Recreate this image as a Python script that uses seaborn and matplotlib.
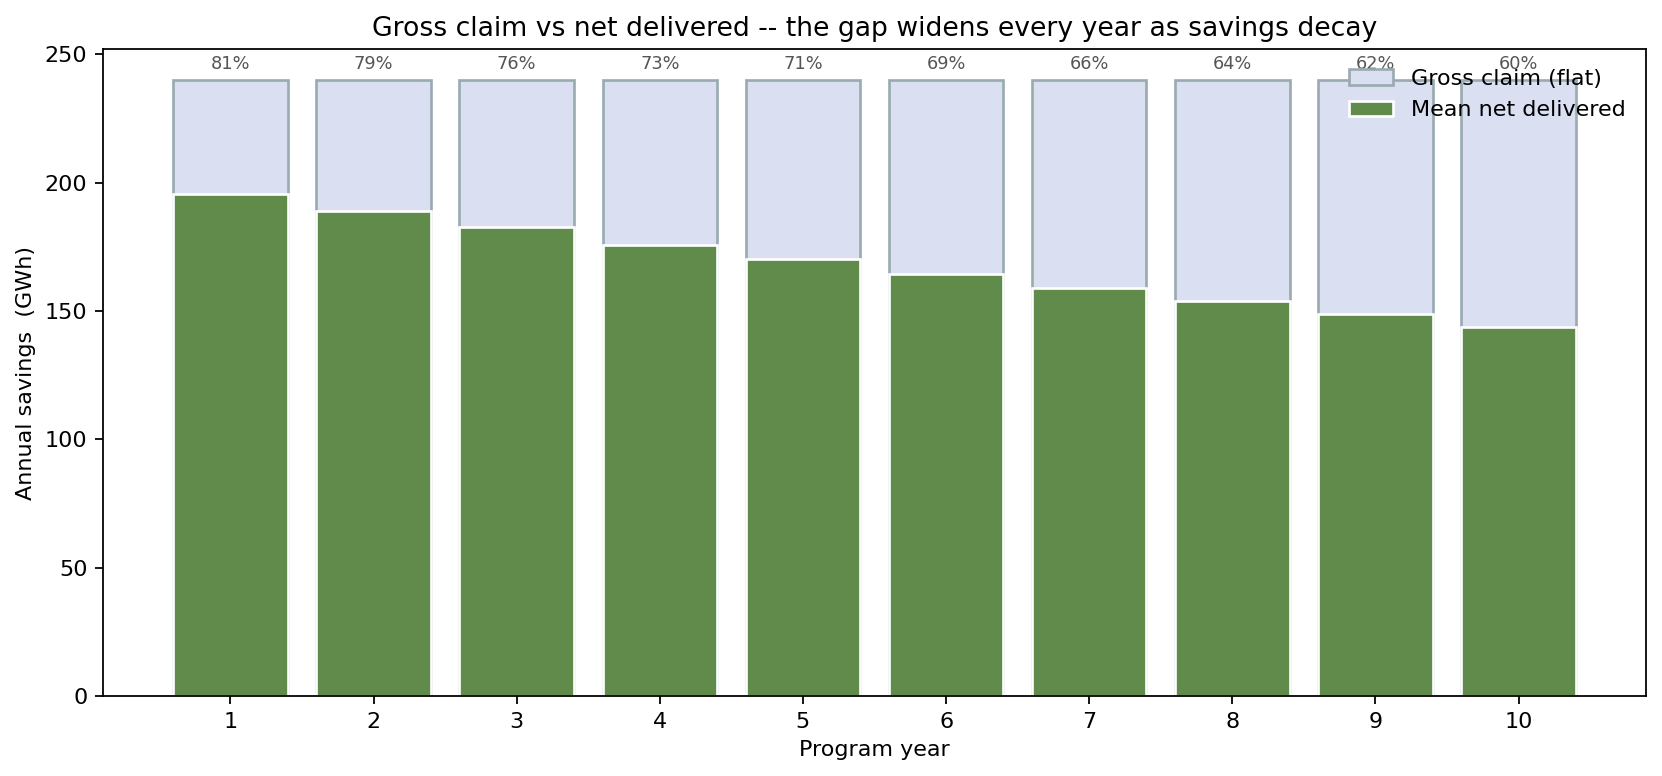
import numpy as np
import pandas as pd
import seaborn as sns
import matplotlib.pyplot as plt

years = [1, 2, 3, 4, 5, 6, 7, 8, 9, 10]
gross = [240, 240, 240, 240, 240, 240, 240, 240, 240, 240]
net = [195.5, 188.8, 182.6, 175.8, 170.2, 164.5, 159.1, 153.7, 148.8, 143.8]

data = pd.DataFrame({'year': years, 'gross': gross, 'net': net})

fig, ax = plt.subplots(figsize=(1662 / 160, 776 / 160), dpi=160)
fig.subplots_adjust(left=103 / 1662, right=1646 / 1662, top=1 - 49 / 776, bottom=80 / 776)

sns.barplot(data=data, x='year', y='gross', color='#dae0f2', saturation=1,
            edgecolor='#9aabb0', linewidth=1.2, width=0.8,
            label='Gross claim (flat)', ax=ax)
sns.barplot(data=data, x='year', y='net', color='#618b4a', saturation=1,
            edgecolor='white', linewidth=1.2, width=0.8,
            label='Mean net delivered', ax=ax)

for i, (g, n) in enumerate(zip(data.gross, data.net)):
    ax.annotate(f'{n / g:.0%}', (i, g), xytext=(0, 3), textcoords='offset points',
                ha='center', va='bottom', fontsize=8, color='#555555')

ax.set_xlim(-0.89, 9.89)
ax.set_ylim(0, 252)
ax.set_xlabel('Program year')
ax.set_ylabel('Annual savings  (GWh)')
ax.set_title('Gross claim vs net delivered -- the gap widens every year as savings decay')
ax.legend(loc='upper right', frameon=False)

plt.savefig('out.png', dpi=160)
